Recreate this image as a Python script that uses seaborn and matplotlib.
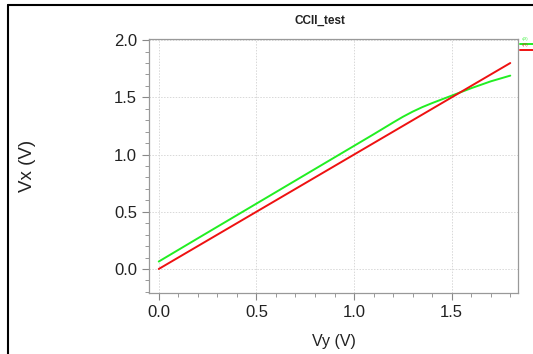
import matplotlib
matplotlib.use("Agg")
import matplotlib.pyplot as plt
import seaborn as sns
import pandas as pd
from matplotlib.lines import Line2D
from matplotlib.ticker import MultipleLocator

vy = [0.0, 0.2, 0.4, 0.6, 0.8, 1.0, 1.1, 1.2, 1.25, 1.3, 1.35, 1.4, 1.5, 1.6, 1.7, 1.8]
vx_green = [0.065, 0.268, 0.47, 0.672, 0.874, 1.076, 1.177, 1.28, 1.33, 1.375, 1.415, 1.45, 1.515, 1.58, 1.64, 1.69]
vx_red = [0.0, 0.2, 0.4, 0.6, 0.8, 1.0, 1.1, 1.2, 1.25, 1.3, 1.35, 1.4, 1.5, 1.6, 1.7, 1.8]
series_names = ["v(X)", "v(Y)"]
title = "CCII_test"

df = pd.DataFrame({
    "Vy": vy + vy,
    "Vx": vx_green + vx_red,
    "series": [series_names[0]] * len(vy) + [series_names[1]] * len(vy),
})

sns.set_style("white")
plt.rcParams["font.family"] = ["Liberation Sans", "DejaVu Sans"]

fig = plt.figure(figsize=(5.33, 3.54), dpi=100)
ax = fig.add_axes([0.2795, 0.1723, 0.6925, 0.7175])
sns.lineplot(data=df, x="Vy", y="Vx", hue="series",
             palette={series_names[0]: "#22ee22", series_names[1]: "#ee1111"},
             linewidth=1.4, ax=ax, legend=False)

ax.set_xlim(-0.05, 1.84)
ax.set_ylim(-0.21, 2.01)
ax.xaxis.set_major_locator(MultipleLocator(0.5))
ax.xaxis.set_minor_locator(MultipleLocator(0.1))
ax.yaxis.set_major_locator(MultipleLocator(0.5))
ax.yaxis.set_minor_locator(MultipleLocator(0.1))
ax.xaxis.set_major_formatter(matplotlib.ticker.FormatStrFormatter("%.1f"))
ax.yaxis.set_major_formatter(matplotlib.ticker.FormatStrFormatter("%.1f"))
ax.tick_params(which="major", direction="out", length=5, width=0.8, color="#888888",
               labelsize=12, labelcolor="#222222", bottom=True, left=True)
ax.tick_params(which="minor", direction="out", length=3, width=0.6, color="#888888",
               bottom=True, left=True)
ax.grid(True, which="major", linestyle=(0, (1.5, 1.5)), color="#d8d8d8", linewidth=0.7)
for s in ax.spines.values():
    s.set_color("#999999")
    s.set_linewidth(0.9)

ax.set_xlabel("Vy (V)", fontsize=11.5, color="#222222", labelpad=10)
ax.set_ylabel("Vx (V)", fontsize=13.5, color="#222222")
ax.yaxis.set_label_coords(-0.305, 0.5)
fig.text(320 / 533, 1 - 21 / 354, title, ha="center", va="center", fontsize=8.5,
         fontweight="bold", color="#222222")

# small legend at the right edge
fig.add_artist(Line2D([520 / 533, 1.0], [1 - 44 / 354] * 2, color="#22ee22", lw=1.4))
fig.add_artist(Line2D([520 / 533, 1.0], [1 - 50 / 354] * 2, color="#ee1111", lw=1.4))
fig.text(522 / 533, 1 - 41 / 354, series_names[0], fontsize=2.5, color="#22ee22", va="bottom")
fig.text(522 / 533, 1 - 47 / 354, series_names[1], fontsize=2.5, color="#ee1111", va="bottom")

# black page frame on the left and top
fig.add_artist(Line2D([8 / 533, 8 / 533], [0, 1 - 5 / 354], color="black", lw=1.5))
fig.add_artist(Line2D([8 / 533, 1.0], [1 - 5 / 354] * 2, color="black", lw=1.5))

fig.savefig("out.png", dpi=100)
